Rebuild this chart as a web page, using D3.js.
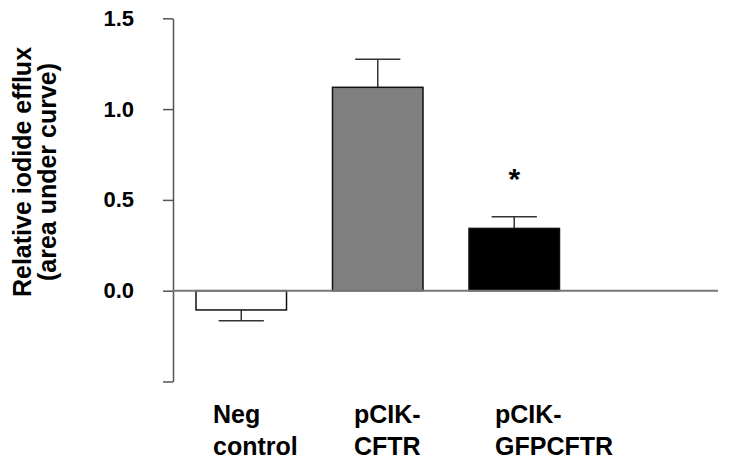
<!DOCTYPE html>
<html>
<head>
<meta charset="utf-8">
<script src="https://cdn.jsdelivr.net/npm/d3@7"></script>
<style>
  body { margin: 0; background: #fff; }
  svg { display: block; }
  text { font-family: "Liberation Sans", Arial, sans-serif; font-weight: bold; fill: #000; }
</style>
</head>
<body>
<svg id="chart" width="729" height="463"></svg>
<script>
// ---- data ----
const categories = ["Neg control", "pCIK-CFTR", "pCIK-GFPCFTR"];
const labelLines = [["Neg", "control"], ["pCIK-", "CFTR"], ["pCIK-", "GFPCFTR"]];
const means = [-0.106, 1.12, 0.343];
const errors = [0.059, 0.154, 0.064];
const fills = ["#ffffff", "#808080", "#000000"];
const significant = [false, false, true];
const yTicks = [1.5, 1.0, 0.5, 0.0, -0.5];
const yTickLabels = ["1.5", "1.0", "0.5", "0.0", ""];
const yTitle = ["Relative iodide efflux", "(area under curve)"];

// ---- layout ----
const svg = d3.select("#chart");
const axisX = 173;
const zeroEnd = 718;

const y = d3.scaleLinear().domain([-0.5, 1.5]).range([381.5, 18.3]);
const x = d3.scaleBand().domain(categories).range([175, 580.5])
  .paddingInner(0.337).paddingOuter(0.154);
const labelX = d3.scalePoint().domain(categories).range([213, 495]);

// y axis
const yAxis = d3.axisLeft(y)
  .tickValues(yTicks)
  .tickFormat((d, i) => yTickLabels[i])
  .tickSize(10)
  .tickPadding(29)
  .tickSizeOuter(0);
const gy = svg.append("g").attr("transform", `translate(${axisX},0)`).call(yAxis);
gy.select(".domain").attr("stroke", "#555").attr("stroke-width", 1.5);
gy.selectAll(".tick line").attr("stroke", "#555").attr("stroke-width", 1.5);
gy.selectAll(".tick text")
  .style("font-size", "22px")
  .style("font-family", "'Liberation Sans', Arial, sans-serif")
  .style("font-weight", "bold")
  .attr("fill", "#000");

// y title
const title = svg.append("text")
  .attr("transform", `translate(31,${172}) rotate(-90)`)
  .attr("text-anchor", "middle")
  .style("font-size", "25px");
title.append("tspan").attr("x", 0).attr("y", 0).text(yTitle[0]);
title.append("tspan").attr("x", 0).attr("y", 25).text(yTitle[1]);

// error bars
const eb = svg.append("g").attr("stroke", "#333").attr("stroke-width", 1.5);
categories.forEach((c, i) => {
  const cx = x(c) + x.bandwidth() / 2;
  const sign = means[i] >= 0 ? 1 : -1;
  const tip = means[i] + sign * errors[i];
  const capW = x.bandwidth() / 2;
  eb.append("line").attr("x1", cx).attr("x2", cx).attr("y1", y(means[i])).attr("y2", y(tip));
  eb.append("line").attr("x1", cx - capW / 2).attr("x2", cx + capW / 2).attr("y1", y(tip)).attr("y2", y(tip));
});

// bars
svg.append("g").selectAll("rect").data(categories).join("rect")
  .attr("x", d => x(d))
  .attr("width", x.bandwidth())
  .attr("y", (d, i) => y(Math.max(0, means[i])))
  .attr("height", (d, i) => Math.abs(y(means[i]) - y(0)))
  .attr("fill", (d, i) => fills[i])
  .attr("stroke", "#111")
  .attr("stroke-width", 1.5);

// zero line
svg.append("line")
  .attr("x1", axisX).attr("x2", zeroEnd)
  .attr("y1", y(0)).attr("y2", y(0))
  .attr("stroke", "#777").attr("stroke-width", 2);

// significance star
categories.forEach((c, i) => {
  if (!significant[i]) return;
  svg.append("text")
    .attr("x", x(c) + x.bandwidth() / 2)
    .attr("y", y(means[i] + errors[i]) - 28)
    .attr("text-anchor", "middle")
    .style("font-size", "30px")
    .text("*");
});

// category labels
categories.forEach((c, i) => {
  const t = svg.append("text").attr("x", labelX(c)).attr("y", 423).style("font-size", "25px");
  labelLines[i].forEach((ln, j) => {
    t.append("tspan").attr("x", labelX(c)).attr("y", 423 + j * 32).text(ln);
  });
});
</script>
</body>
</html>
